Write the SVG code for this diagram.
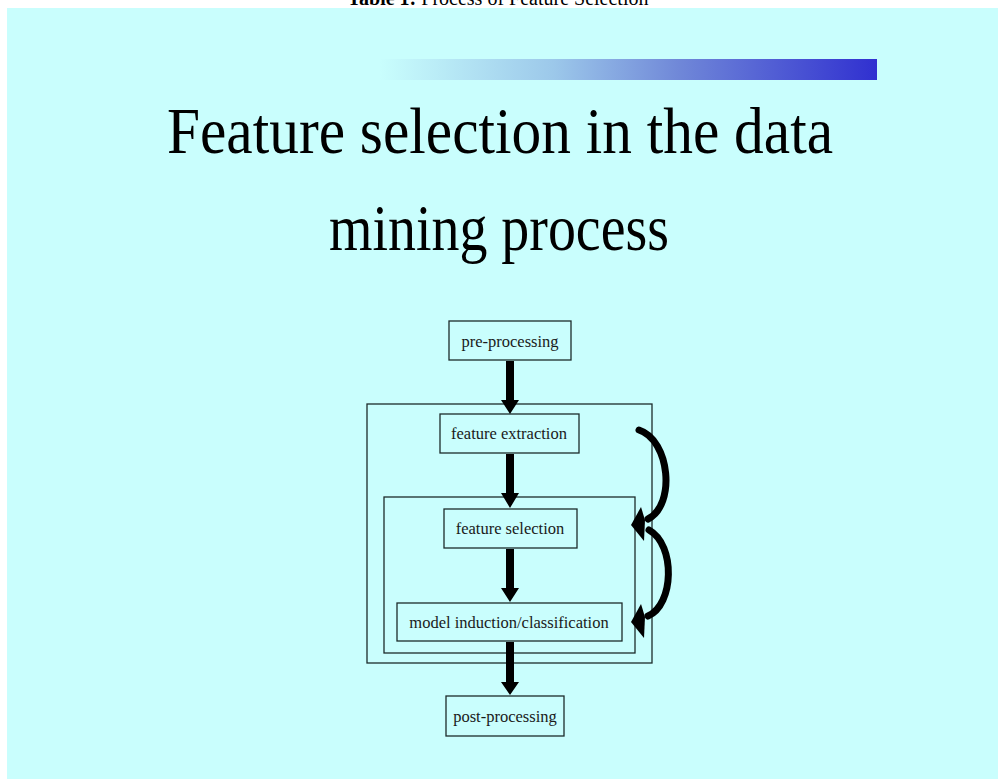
<svg xmlns="http://www.w3.org/2000/svg" width="998" height="779" viewBox="0 0 998 779">
<style>
.bg{fill:#C9FEFD}
.box{fill:#C9FEFD;stroke:#1d2b2b;stroke-width:1.3}
.frame{fill:none;stroke:#1d2b2b;stroke-width:1.3}
.lbl{font-family:"Liberation Serif","Times New Roman",serif;font-size:16.5px;fill:#1a1a1a;text-anchor:middle}
.title{font-family:"Liberation Serif","Times New Roman",serif;font-size:66px;fill:#000;text-anchor:middle}
.cap{font-family:"Liberation Serif","Times New Roman",serif;font-size:20px;fill:#000;text-anchor:middle}
.shaft{fill:#000}
.curve{fill:none;stroke:#000;stroke-width:7;stroke-linecap:round}
</style>
<defs>
<linearGradient id="bar" x1="0" y1="0" x2="1" y2="0">
<stop offset="0" stop-color="#C9FEFD"/>
<stop offset="0.35" stop-color="#9cc8ea"/>
<stop offset="0.6" stop-color="#7088d8"/>
<stop offset="1" stop-color="#3030d0"/>
</linearGradient>
</defs>
<rect x="0" y="0" width="998" height="779" fill="#ffffff"/>
<rect class="bg" x="7" y="8" width="991" height="771"/>
<text class="cap" x="498" y="5"><tspan font-weight="bold">Table  1:</tspan> Process of Feature Selection</text>
<rect x="380" y="59" width="497" height="21" fill="url(#bar)"/>
<text class="title" x="500" y="153" textLength="666" lengthAdjust="spacingAndGlyphs">Feature selection in the data</text>
<text class="title" x="499" y="250" textLength="340" lengthAdjust="spacingAndGlyphs">mining process</text>

<g id="outer-frame"><rect class="frame" x="367" y="404" width="285" height="259"/></g>
<g id="inner-frame"><rect class="frame" x="384" y="497" width="251" height="156"/></g>

<g id="pre-processing"><rect class="box" x="449" y="321" width="122" height="39"/><text class="lbl" x="510" y="347">pre-processing</text></g>
<g id="feature-extraction"><rect class="box" x="440" y="414" width="139" height="39"/><text class="lbl" x="509" y="439">feature extraction</text></g>
<g id="feature-selection"><rect class="box" x="444" y="509" width="133" height="39"/><text class="lbl" x="510" y="534">feature selection</text></g>
<g id="model-induction"><rect class="box" x="397" y="603" width="225" height="38"/><text class="lbl" x="509" y="628">model induction/classification</text></g>
<g id="post-processing"><rect class="box" x="446" y="696" width="118" height="40"/><text class="lbl" x="505" y="722">post-processing</text></g>

<g id="connectors">
<polygon class="shaft" points="506,361 514,361 514,400 519,400 510,414 501,400 506,400"/>
<polygon class="shaft" points="506,454 514,454 514,493 519,493 510,508 501,493 506,493"/>
<polygon class="shaft" points="506,549 514,549 514,588 519,588 510,602 501,588 506,588"/>
<polygon class="shaft" points="506,642 514,642 514,682 519,682 510,695 501,682 506,682"/>
<path class="curve" d="M639,430 C670,440 676,505 648,519"/>
<polygon class="shaft" points="631,525 641,507 645,520 644,541"/>
<path class="curve" d="M649,530 C676,545 674,605 648,616"/>
<polygon class="shaft" points="631,622 641,604 645,617 644,638"/>
</g>
</svg>
